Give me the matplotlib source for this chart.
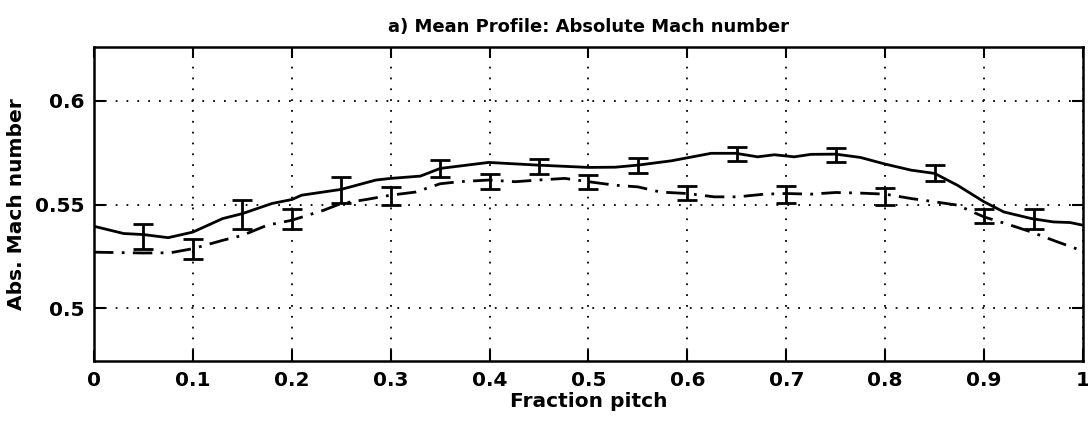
import matplotlib
matplotlib.use("Agg")
import matplotlib.pyplot as plt
import numpy as np

plt.rcParams['font.family'] = ['DejaVu Sans']
plt.rcParams['font.weight'] = 'bold'

# Mean profile, solid curve
solid_x = [0.0, 0.030, 0.050, 0.075, 0.100, 0.130, 0.150, 0.180, 0.200, 0.210,
           0.250, 0.285, 0.300, 0.330, 0.350, 0.399, 0.449, 0.500, 0.527, 0.550,
           0.584, 0.624, 0.649, 0.671, 0.688, 0.708, 0.725, 0.750, 0.775, 0.800,
           0.826, 0.850, 0.873, 0.900, 0.920, 0.948, 0.970, 0.987, 1.0]
solid_y = [0.5395, 0.5360, 0.5355, 0.5340, 0.5367, 0.5432, 0.5456, 0.5505, 0.5524, 0.5545,
           0.5573, 0.5618, 0.5626, 0.5637, 0.5674, 0.5703, 0.5690, 0.5679, 0.5680, 0.5690,
           0.5711, 0.5747, 0.5747, 0.5730, 0.5740, 0.5730, 0.5742, 0.5743, 0.5727, 0.5695,
           0.5666, 0.5650, 0.5593, 0.5513, 0.5464, 0.5432, 0.5416, 0.5413, 0.5400]

# Mean profile, dash-dot curve
dash_x = [0.0, 0.050, 0.077, 0.100, 0.130, 0.150, 0.175, 0.200, 0.232, 0.250,
          0.275, 0.300, 0.325, 0.350, 0.369, 0.399, 0.426, 0.449, 0.476, 0.500,
          0.527, 0.550, 0.573, 0.600, 0.627, 0.651, 0.678, 0.700, 0.725, 0.750,
          0.775, 0.800, 0.826, 0.850, 0.873, 0.900, 0.927, 0.948, 0.970, 1.0]
dash_y = [0.5270, 0.5266, 0.5267, 0.5287, 0.5327, 0.5351, 0.5400, 0.5424, 0.5472, 0.5505,
          0.5524, 0.5545, 0.5560, 0.5600, 0.5610, 0.5618, 0.5610, 0.5618, 0.5626, 0.5610,
          0.5593, 0.5585, 0.5560, 0.5553, 0.5537, 0.5537, 0.5550, 0.5553, 0.5550, 0.5558,
          0.5555, 0.5550, 0.5529, 0.5513, 0.5497, 0.5440, 0.5400, 0.5367, 0.5327, 0.5275]

# Error bars on the solid curve
solid_err_x = [0.05, 0.15, 0.25, 0.35, 0.45, 0.55, 0.65, 0.75, 0.85, 0.95]
solid_err_y = [0.5345, 0.5450, 0.5570, 0.5674, 0.5683, 0.5686, 0.5745, 0.5740, 0.5653, 0.5430]
solid_err = [0.0062, 0.0070, 0.0063, 0.0040, 0.0036, 0.0036, 0.0034, 0.0034, 0.0040, 0.0050]

# Error bars on the dash-dot curve
dash_err_x = [0.1, 0.2, 0.3, 0.4, 0.5, 0.6, 0.7, 0.8, 0.9]
dash_err_y = [0.5287, 0.5428, 0.5542, 0.5610, 0.5610, 0.5557, 0.5548, 0.5540, 0.5445]
dash_err = [0.0048, 0.0048, 0.0043, 0.0035, 0.0033, 0.0033, 0.0043, 0.0040, 0.0035]

x_ticks = [0, 0.1, 0.2, 0.3, 0.4, 0.5, 0.6, 0.7, 0.8, 0.9, 1]
x_ticklabels = ['0', '0.1', '0.2', '0.3', '0.4', '0.5', '0.6', '0.7', '0.8', '0.9', '1']
y_ticks = [0.5, 0.55, 0.6]
y_ticklabels = ['0.5', '0.55', '0.6']

fig = plt.figure(figsize=(10.88, 4.26), dpi=100)
ax = fig.add_axes([0.0864, 0.1526, 0.9090, 0.7371])

ax.plot(solid_x, solid_y, color='black', lw=2.0, solid_joinstyle='round')
ax.plot(dash_x, dash_y, color='black', lw=2.0, linestyle=(0, (7, 3, 1, 3)))

ax.errorbar(solid_err_x, solid_err_y, yerr=solid_err, fmt='none', ecolor='black',
            elinewidth=2.0, capsize=7.2, capthick=2.0)
ax.errorbar(dash_err_x, dash_err_y, yerr=dash_err, fmt='none', ecolor='black',
            elinewidth=2.0, capsize=7.2, capthick=2.0)

ax.set_xlim(0, 1)
ax.set_ylim(0.4745, 0.626)
ax.set_xticks(x_ticks)
ax.set_xticklabels(x_ticklabels)
ax.set_yticks(y_ticks)
ax.set_yticklabels(y_ticklabels)

ax.grid(True, color='black', linestyle=(0, (1, 5)), linewidth=1.3)
ax.tick_params(direction='in', length=8, width=1.5, top=True, right=True,
               labelsize=14.5, pad=7)
for sp in ax.spines.values():
    sp.set_linewidth(1.8)

ax.set_title('a) Mean Profile: Absolute Mach number', fontsize=13,
             fontweight='bold', pad=11)
ax.set_xlabel('Fraction pitch', fontsize=14.5, fontweight='bold', labelpad=2)
ax.set_ylabel('Abs. Mach number', fontsize=14.5, fontweight='bold', labelpad=6)

fig.savefig('out.png', dpi=100)
